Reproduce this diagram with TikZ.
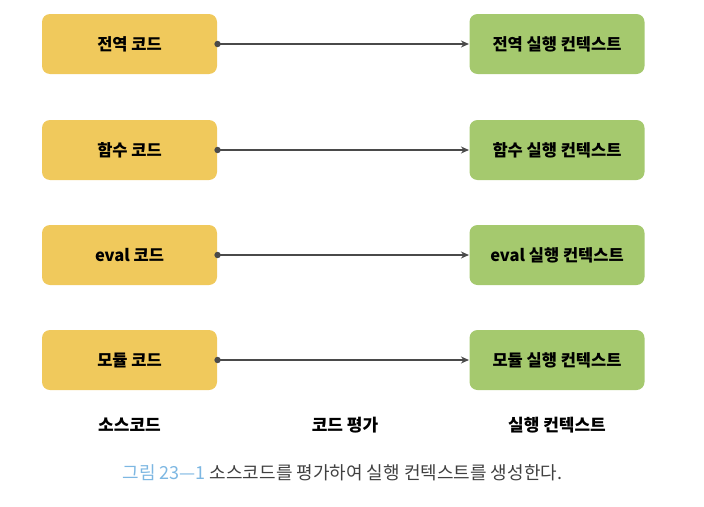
\documentclass[tikz,border=0pt]{standalone}
\usepackage{fontspec}
\setmainfont{Noto Sans CJK KR}
\usepackage{tikz}
\usetikzlibrary{arrows.meta}

\definecolor{codeYellow}{HTML}{F0C95C}
\definecolor{ctxGreen}{HTML}{A5C96E}
\definecolor{lineGray}{HTML}{4A4A4A}
\definecolor{capBlue}{HTML}{7DB7E2}
\definecolor{capGray}{HTML}{404040}

\begin{document}
\begin{tikzpicture}[x=1pt, y=-1pt, line width=1.1pt]

		\useasboundingbox (0, 0) rectangle (704, 506);
		\tikzset {
			styleBox/.style= {
				rounded corners=8pt, minimum width=175pt, minimum height=60pt,
				inner sep=0pt, text=black,
				font=\bfseries\fontsize{16.5pt}{19pt}\selectfont
			},	% 상자 모양
			styleCode/.style= { styleBox, fill=codeYellow },
			styleCtx/.style= { styleBox, fill=ctxGreen },
			styleFoot/.style= { font=\bfseries\fontsize{17pt}{20pt}\selectfont }
		};
		%루프로 상자를 그린다
		\foreach 
			\rowName/\y/\codeText in { 
				1/44/전역, 2/150/함수, 3/255/eval, 4/360/모듈} {
			\node [styleCode] (code\rowName) at (129.5, \y) {\codeText{} 코드};
			\node [styleCtx] (ctx\rowName) at (557, \y) {\codeText{} 실행 컨텍스트};
			%점에서 화살표
			\fill [lineGray] (code\rowName.east) circle (3.2pt);
			\draw [lineGray, -{Stealth[length=8pt, width=7pt]}]
				(code\rowName.east) -- (ctx\rowName.west);
		}

		%아래 이름
		\node [styleFoot] (footCode) at (129.5, 425) {소스코드};
		\node [styleFoot] (footEval) at (345, 425) {코드 평가};
		\node [styleFoot] (footCtx) at (557, 425) {실행 컨텍스트};

		%그림 제목
		\node [anchor=west, inner sep=0pt, text=capGray, font=\fontsize{18pt}{21pt}\selectfont]
			(caption) at (122, 473) {{\color{capBlue}그림 23---1} 소스코드를 평가하여 실행 컨텍스트를 생성한다.};

	\end{tikzpicture}
\end{document}
